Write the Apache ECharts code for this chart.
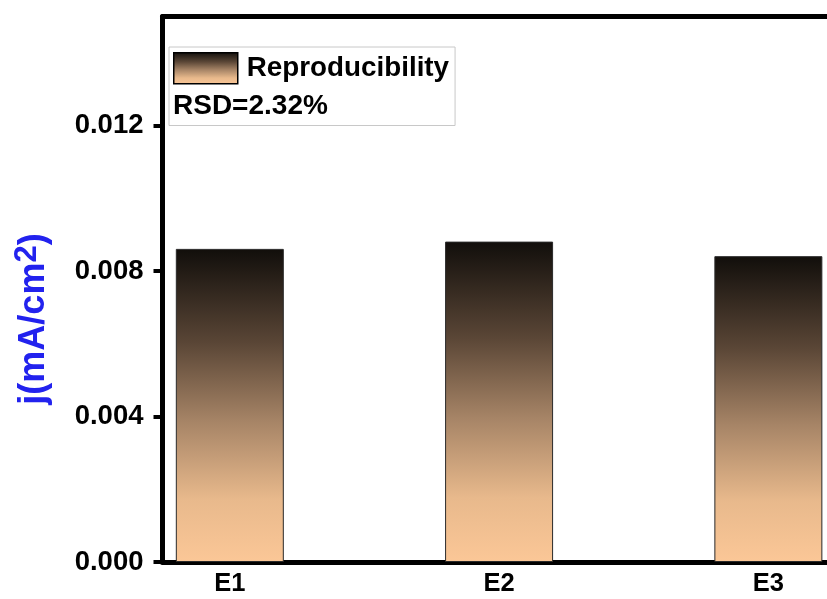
<!DOCTYPE html>
<html>
<head>
<meta charset="utf-8">
<script src="https://cdn.jsdelivr.net/npm/echarts@6/dist/echarts.min.js"></script>
<style>
html,body{margin:0;padding:0;background:#fff;}
#chart{width:827px;height:599px;}
</style>
</head>
<body>
<div id="chart"></div>
<script>
const categories = ['E1', 'E2', 'E3'];
const currentDensity = [0.00861, 0.00881, 0.00841];
const yTicks = [0.000, 0.004, 0.008, 0.012];
const seriesName = 'Reproducibility';
const rsdText = 'RSD=2.32%';
const yAxisTitle = '{a|j(mA/cm}{s|2}{a|)}';

const FONT = '"Liberation Sans", Arial, sans-serif';
const barGradient = new echarts.graphic.LinearGradient(0, 0, 0, 1, [
  { offset: 0, color: '#110e0b' },
  { offset: 0.3, color: '#5a4636' },
  { offset: 0.55, color: '#a68466' },
  { offset: 0.8, color: '#e8b98c' },
  { offset: 1, color: '#fbc797' }
]);

const chart = echarts.init(document.getElementById('chart'), null, { renderer: 'canvas' });
chart.setOption({
  backgroundColor: '#fff',
  animation: false,
  grid: { left: 162.5, top: 16.5, height: 545.5, width: 740.5, containLabel: false, outerBoundsMode: 'none' },
  legend: {
    left: 169, top: 47,
    orient: 'vertical',
    padding: [5, 6, 41, 4],
    borderColor: '#c8c8c8', borderWidth: 1,
    itemWidth: 64, itemHeight: 31,
    icon: 'rect',
    data: [{ name: seriesName, itemStyle: { color: barGradient, borderColor: '#000', borderWidth: 1.5 } }],
    textStyle: { fontFamily: FONT, fontWeight: 'bold', fontSize: 27.8, color: '#000', padding: [0, 0, 0, 4] }
  },
  graphic: [{
    type: 'text', x: 173, y: 106.5,
    style: { text: rsdText, fontFamily: FONT, fontWeight: 'bold', fontSize: 28, fill: '#000', verticalAlign: 'middle', align: 'left' }
  }, {
    type: 'text', x: 34, y: 319, rotation: Math.PI / 2,
    style: {
      text: yAxisTitle, align: 'center', verticalAlign: 'middle',
      rich: {
        a: { fontFamily: FONT, fontWeight: 'bold', fontSize: 36, fill: '#2222ee' },
        s: { fontFamily: FONT, fontWeight: 'bold', fontSize: 31, fill: '#2222ee', verticalAlign: 'bottom', padding: [0, 0, 14, 0] }
      }
    }
  }],
  xAxis: [{
    type: 'value', min: 0.75, max: 3.5, position: 'bottom',
    axisLine: { show: true, lineStyle: { color: '#000', width: 5 } },
    axisTick: { show: false },
    splitLine: { show: false },
    axisLabel: {
      customValues: [1, 2, 3],
      formatter: v => categories[Math.round(v) - 1] || '',
      fontFamily: FONT, fontWeight: 'bold', fontSize: 25.5, color: '#000', margin: 9
    }
  }, {
    type: 'value', min: 0.75, max: 3.5, position: 'top',
    axisLine: { show: true, lineStyle: { color: '#000', width: 5 } },
    axisTick: { show: false }, axisLabel: { show: false }, splitLine: { show: false }
  }],
  yAxis: {
    type: 'value', min: 0, max: 0.015,
    axisLine: { show: true, lineStyle: { color: '#000', width: 5 } },
    axisTick: { show: true, customValues: yTicks, length: 9, lineStyle: { color: '#000', width: 4 } },
    splitLine: { show: false },
    axisLabel: {
      customValues: yTicks,
      formatter: v => v.toFixed(3),
      fontFamily: FONT, fontWeight: 'bold', fontSize: 27.5, color: '#000', margin: 19
    }
  },
  series: [{
    name: seriesName,
    type: 'bar',
    barWidth: 108,
    data: currentDensity.map((v, i) => [i + 1, v]),
    itemStyle: { color: barGradient, borderColor: '#2a2a2a', borderWidth: 1 }
  }]
});
</script>
</body>
</html>
